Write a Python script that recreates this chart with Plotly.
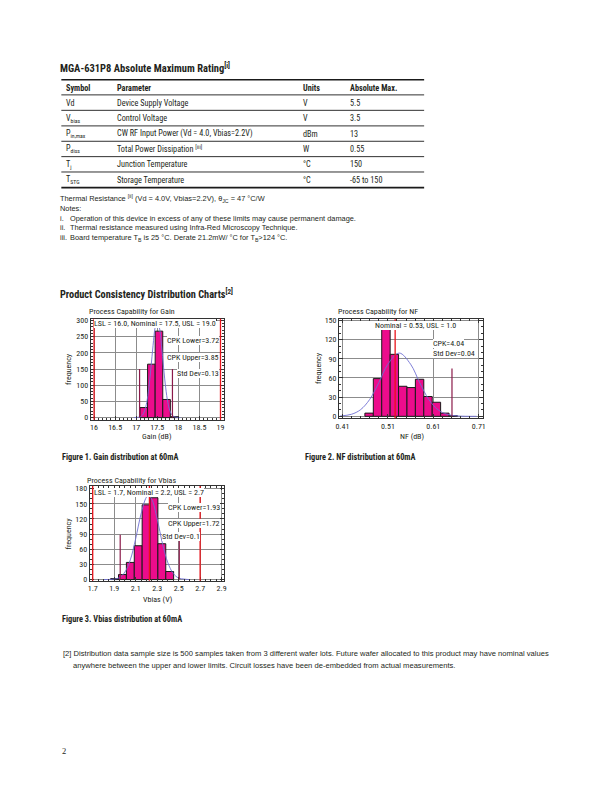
import plotly.graph_objects as go

W, H = 612, 792


def px(x):
    return x / W


def py(y):
    return 1 - y / H


COND = "Roboto Condensed, DejaVu Sans Condensed, sans-serif"
REG = "Liberation Sans, Arial, sans-serif"
INK = "#231f20"
PINK = "#EC0C8C"
RED = "#E8141B"
MAROON = "#8B1A4A"
BLUE = "#6F6FD2"

# ---------------- table data ----------------
table_header = ["Symbol", "Parameter", "Units", "Absolute Max."]
table_symbols = ["Vd", "V<sub>bias</sub>", "P<sub>in,max</sub>", "P<sub>diss</sub>", "T<sub>j</sub>", "T<sub>STG</sub>"]
table_params = ["Device Supply Voltage", "Control Voltage", "CW RF Input Power (Vd = 4.0, Vbias=2.2V)",
                "Total Power Dissipation <sup>[iii]</sup>", "Junction Temperature", "Storage Temperature"]
table_units = ["V", "V", "dBm", "W", "°C", "°C"]
table_max = ["5.5", "3.5", "13", "0.55", "150", "-65 to 150"]

# ---------------- chart data ----------------
gain_bin_left = [17.09, 17.27, 17.45, 17.63, 17.81]
gain_bin_width = 0.18
gain_counts = [31, 165, 267, 56, 3]
gain_curve_x = [16.95, 17.05, 17.1, 17.15, 17.2, 17.25, 17.3, 17.35, 17.4, 17.45, 17.5,
                17.55, 17.6, 17.65, 17.7, 17.75, 17.8, 17.85, 17.9, 17.95, 18.05]
gain_curve_y = [0, 1, 3, 8, 21, 47, 92, 154, 223, 279, 300, 279, 223, 154, 92, 47, 21, 8, 3, 1, 0]
gain_spec_lines = [16.0, 19.0]
gain_sigma_lines = [17.08, 17.86]
gain_sigma_height = [150, 150]
gain_xticks = [16, 16.5, 17, 17.5, 18, 18.5, 19]
gain_yticks = [0, 50, 100, 150, 200, 250, 300]

nf_bin_left = [0.4595, 0.478, 0.4965, 0.515, 0.5335, 0.552, 0.5705, 0.589, 0.6075, 0.626, 0.6445]
nf_bin_width = 0.0185
nf_counts = [5, 59, 143, 97, 47, 45, 58, 31, 22, 5, 1]
nf_curve_x = [0.405, 0.43, 0.45, 0.47, 0.49, 0.51, 0.535, 0.56, 0.58, 0.60, 0.62, 0.64, 0.66, 0.68, 0.705]
nf_curve_y = [0.5, 3.2, 10.4, 26.4, 52.6, 81.5, 99, 81.5, 52.6, 26.4, 10.4, 3.2, 0.8, 0.1, 0]
nf_nominal_line = [0.526]
nf_sigma_lines = [0.651]
nf_sigma_height = [75]
nf_xticks = [0.41, 0.51, 0.61, 0.71]
nf_yticks = [0, 30, 60, 90, 120, 150]

vb_bin_left = [1.867, 1.9403, 2.0136, 2.0869, 2.1602, 2.2335, 2.3068, 2.3801]
vb_bin_width = 0.0733
vb_counts = [2, 10, 34, 67, 148, 162, 71, 16]
vb_curve_x = [1.8, 1.9, 1.95, 2.0, 2.05, 2.1, 2.15, 2.2, 2.22, 2.25, 2.3, 2.35, 2.4, 2.45, 2.5, 2.55, 2.6]
vb_curve_y = [0, 1, 4, 15, 39, 81, 130, 163, 166, 159, 120, 71, 33, 12, 3, 1, 0]
vb_spec_lines = [1.7, 2.228, 2.7]
vb_sigma_lines = [1.956, 2.506]
vb_sigma_height = [89, 90]
vb_xticks = [1.7, 1.9, 2.1, 2.3, 2.5, 2.7, 2.9]
vb_yticks = [0, 30, 60, 90, 120, 150, 180]

fig = go.Figure()


def centers(lefts, w):
    return [l + w / 2 for l in lefts]


charts = [
    dict(ax="", left=gain_bin_left, w=gain_bin_width, counts=gain_counts, cx=gain_curve_x, cy=gain_curve_y,
         red=gain_spec_lines, sig=gain_sigma_lines, sigh=gain_sigma_height),
    dict(ax="2", left=nf_bin_left, w=nf_bin_width, counts=nf_counts, cx=nf_curve_x, cy=nf_curve_y,
         red=nf_nominal_line, sig=nf_sigma_lines, sigh=nf_sigma_height),
    dict(ax="3", left=vb_bin_left, w=vb_bin_width, counts=vb_counts, cx=vb_curve_x, cy=vb_curve_y,
         red=vb_spec_lines, sig=vb_sigma_lines, sigh=vb_sigma_height),
]

shapes = []
for c in charts:
    xa = "x" + c["ax"]
    ya = "y" + c["ax"]
    fig.add_trace(go.Bar(x=centers(c["left"], c["w"]), y=c["counts"], width=c["w"],
                         marker=dict(color=PINK, line=dict(color="#1a1a1a", width=1)),
                         xaxis=xa, yaxis=ya, showlegend=False))
    fig.add_trace(go.Scatter(x=c["cx"], y=c["cy"], mode="lines",
                             line=dict(color=BLUE, width=0.9, shape="spline"),
                             xaxis=xa, yaxis=ya, showlegend=False))
    for v in c["red"]:
        shapes.append(dict(type="line", xref=xa, yref=ya + " domain", x0=v, x1=v, y0=0, y1=1,
                           line=dict(color=RED, width=1.3), layer="above"))
    for v, hgt in zip(c["sig"], c["sigh"]):
        shapes.append(dict(type="line", xref=xa, yref=ya, x0=v, x1=v, y0=0, y1=hgt,
                           line=dict(color=MAROON, width=1.2), layer="above"))

# table lines
table_lines = [(77.5, 1.6), (92.7, 0.9), (108.3, 0.9), (124, 0.9), (139.5, 0.9), (155, 0.9), (170.5, 0.9), (186.3, 1.6)]
for yy, lw in table_lines:
    shapes.append(dict(type="line", xref="paper", yref="paper", x0=px(58), x1=px(425), y0=py(yy), y1=py(yy),
                       line=dict(color="#1a1a1a", width=lw)))

ann = []


def text(x, y, s, size=8, family=COND, bold=False, anchor="left", color=INK, angle=0, bg=None):
    if bold:
        s = "<b>" + s + "</b>"
    if anchor == "left":
        x -= 1.5
    d = dict(x=px(x), y=py(y), xref="paper", yref="paper", text=s, showarrow=False,
             xanchor=anchor, yanchor="middle", font=dict(size=size, family=family, color=color),
             textangle=angle, borderpad=0, borderwidth=0)
    if bg:
        d["bgcolor"] = bg
    ann.append(d)


text(58, 66, "MGA-631P8 Absolute Maximum Rating<sup>[i]</sup>", size=10.5, bold=True)
col_x = [64, 116, 304, 351]
for cx, h in zip(col_x, table_header):
    text(cx, 85.5, h, size=8.2, bold=True)
row_y = [100.5, 116.2, 131.8, 147.3, 162.8, 178.4]
for i, ry in enumerate(row_y):
    text(col_x[0], ry, table_symbols[i], size=8.2)
    text(col_x[1], ry, table_params[i], size=8.2)
    text(col_x[2], ry, table_units[i], size=8.2)
    text(col_x[3], ry, table_max[i], size=8.2)

NS = 7.4
text(58, 197, "Thermal Resistance <sup>[ii]</sup> (Vd = 4.0V, Vbias=2.2V), θ<sub>JC</sub> = 47 °C/W", size=NS, family=REG)
text(58, 207.5, "Notes:", size=NS, family=REG)
text(58, 217.5, "i.", size=NS, family=REG)
text(68.5, 217.5, "Operation of this device in excess of any of these limits may cause permanent damage.", size=NS, family=REG)
text(58, 227, "ii.", size=NS, family=REG)
text(68.5, 227, "Thermal resistance measured using Infra-Red Microscopy Technique.", size=NS, family=REG)
text(58, 237, "iii.", size=NS, family=REG)
text(68.5, 237, "Board temperature T<sub>B</sub> is 25 °C. Derate 21.2mW/ °C for T<sub>B</sub>>124 °C.", size=NS, family=REG)

text(58, 294, "Product Consistency Distribution Charts<sup>[2]</sup>", size=10.3, bold=True)

# chart texts
CS = 8
text(87, 311, "Process Capability for Gain", size=CS)
text(339.5, 311.5, "Process Capability for NF", size=CS)
text(85, 482, "Process Capability for Vbias", size=CS)

text(155, 437.5, "Gain (dB)", size=CS, anchor="center")
text(413, 437.5, "NF (dB)", size=CS, anchor="center")
text(155, 602, "Vbias (V)", size=CS, anchor="center")
text(65, 369, "frequency", size=CS, anchor="center", angle=-90)
text(318, 368, "frequency", size=CS, anchor="center", angle=-90)
text(65, 535, "frequency", size=CS, anchor="center", angle=-90)

text(153, 323.5, "LSL = 16.0, Nominal = 17.5, USL = 19.0", size=CS, anchor="center", bg="white")
text(217, 340.7, "CPK Lower=3.72", size=CS, anchor="right", bg="white")
text(217, 357.3, "CPK Upper=3.85", size=CS, anchor="right", bg="white")
text(217, 374, "Std Dev=0.13", size=CS, anchor="right", bg="white")

text(416, 325, "Nominal = 0.53, USL = 1.0", size=CS, anchor="center", bg="white")
text(435.5, 343.3, "CPK=4.04", size=CS, bg="white")
text(435.5, 353.5, "Std Dev=0.04", size=CS, bg="white")

text(147, 494, "LSL = 1.7, Nominal = 2.2, USL = 2.7", size=CS, anchor="center", bg="white")
text(218.5, 509.3, "CPK Lower=1.93", size=CS, anchor="right", bg="white")
text(218.5, 525, "CPK Upper=1.72", size=CS, anchor="right", bg="white")
text(198.5, 538.3, "Std Dev=0.1", size=CS, anchor="right", bg="white")

FS = 8.3
text(60, 458, "Figure 1. Gain distribution at 60mA", size=FS, bold=True)
text(306, 458, "Figure 2. NF distribution at 60mA", size=FS, bold=True)
text(60, 621, "Figure 3. Vbias distribution at 60mA", size=FS, bold=True)

FN = 7.6
text(61.5, 656, "[2] Distribution data sample size is 500 samples taken from 3 different wafer lots. Future wafer allocated to this product may have nominal values",
     size=FN, family=REG)
text(71.5, 668, "anywhere between the upper and lower limits. Circuit losses have been de-embedded from actual measurements.",
     size=FN, family=REG)
text(60, 755, "2", size=8.5, family="Liberation Serif, serif")

tickfont = dict(size=8, family=COND, color=INK)


def axis_common(extra):
    d = dict(showline=True, linecolor="#333333", linewidth=1, mirror="ticks", ticks="inside", ticklen=4,
             tickcolor="#333333", showgrid=True, gridcolor="#8c8c8c", gridwidth=1, zeroline=False,
             tickfont=tickfont, fixedrange=True)
    d.update(extra)
    return d


layout = dict(
    width=W, height=H, margin=dict(l=0, r=0, t=0, b=0), paper_bgcolor="white", plot_bgcolor="white",
    showlegend=False, barmode="overlay", shapes=shapes, annotations=ann,
    xaxis=axis_common(dict(domain=[px(87.7), px(222.7)], range=[15.92, 19.087], anchor="y",
                           tickvals=gain_xticks, ticktext=[str(t) for t in gain_xticks],
                           minor=dict(ticks="inside", ticklen=2, dtick=0.1, tickcolor="#333333", showgrid=False))),
    yaxis=axis_common(dict(domain=[py(420.5), py(318.5)], range=[-6.7, 305.5], anchor="x",
                           tickvals=gain_yticks,
                           minor=dict(ticks="inside", ticklen=2, dtick=10, tickcolor="#333333", showgrid=False))),
    xaxis2=axis_common(dict(domain=[px(339), px(485)], range=[0.4028, 0.7202], anchor="y2",
                            tickvals=nf_xticks, ticktext=["0.41", "0.51", "0.61", "0.71"],
                            minor=dict(ticks="inside", ticklen=2, tick0=0.41, dtick=0.02, tickcolor="#333333", showgrid=False))),
    yaxis2=axis_common(dict(domain=[py(419), py(319)], range=[-3.1, 152], anchor="x2",
                            tickvals=nf_yticks,
                            minor=dict(ticks="inside", ticklen=2, dtick=10, tickcolor="#333333", showgrid=False))),
    xaxis3=axis_common(dict(domain=[px(86.7), px(222.3)], range=[1.672, 2.92], anchor="y3",
                            tickvals=vb_xticks, ticktext=[str(t) for t in vb_xticks],
                            minor=dict(ticks="inside", ticklen=2, tick0=1.7, dtick=0.05, tickcolor="#333333", showgrid=False))),
    yaxis3=axis_common(dict(domain=[py(583), py(487.3)], range=[-2.5, 185.3], anchor="x3",
                            tickvals=vb_yticks,
                            minor=dict(ticks="inside", ticklen=2, dtick=10, tickcolor="#333333", showgrid=False))),
)
fig.update_layout(**layout)
fig.write_html("out.html")
